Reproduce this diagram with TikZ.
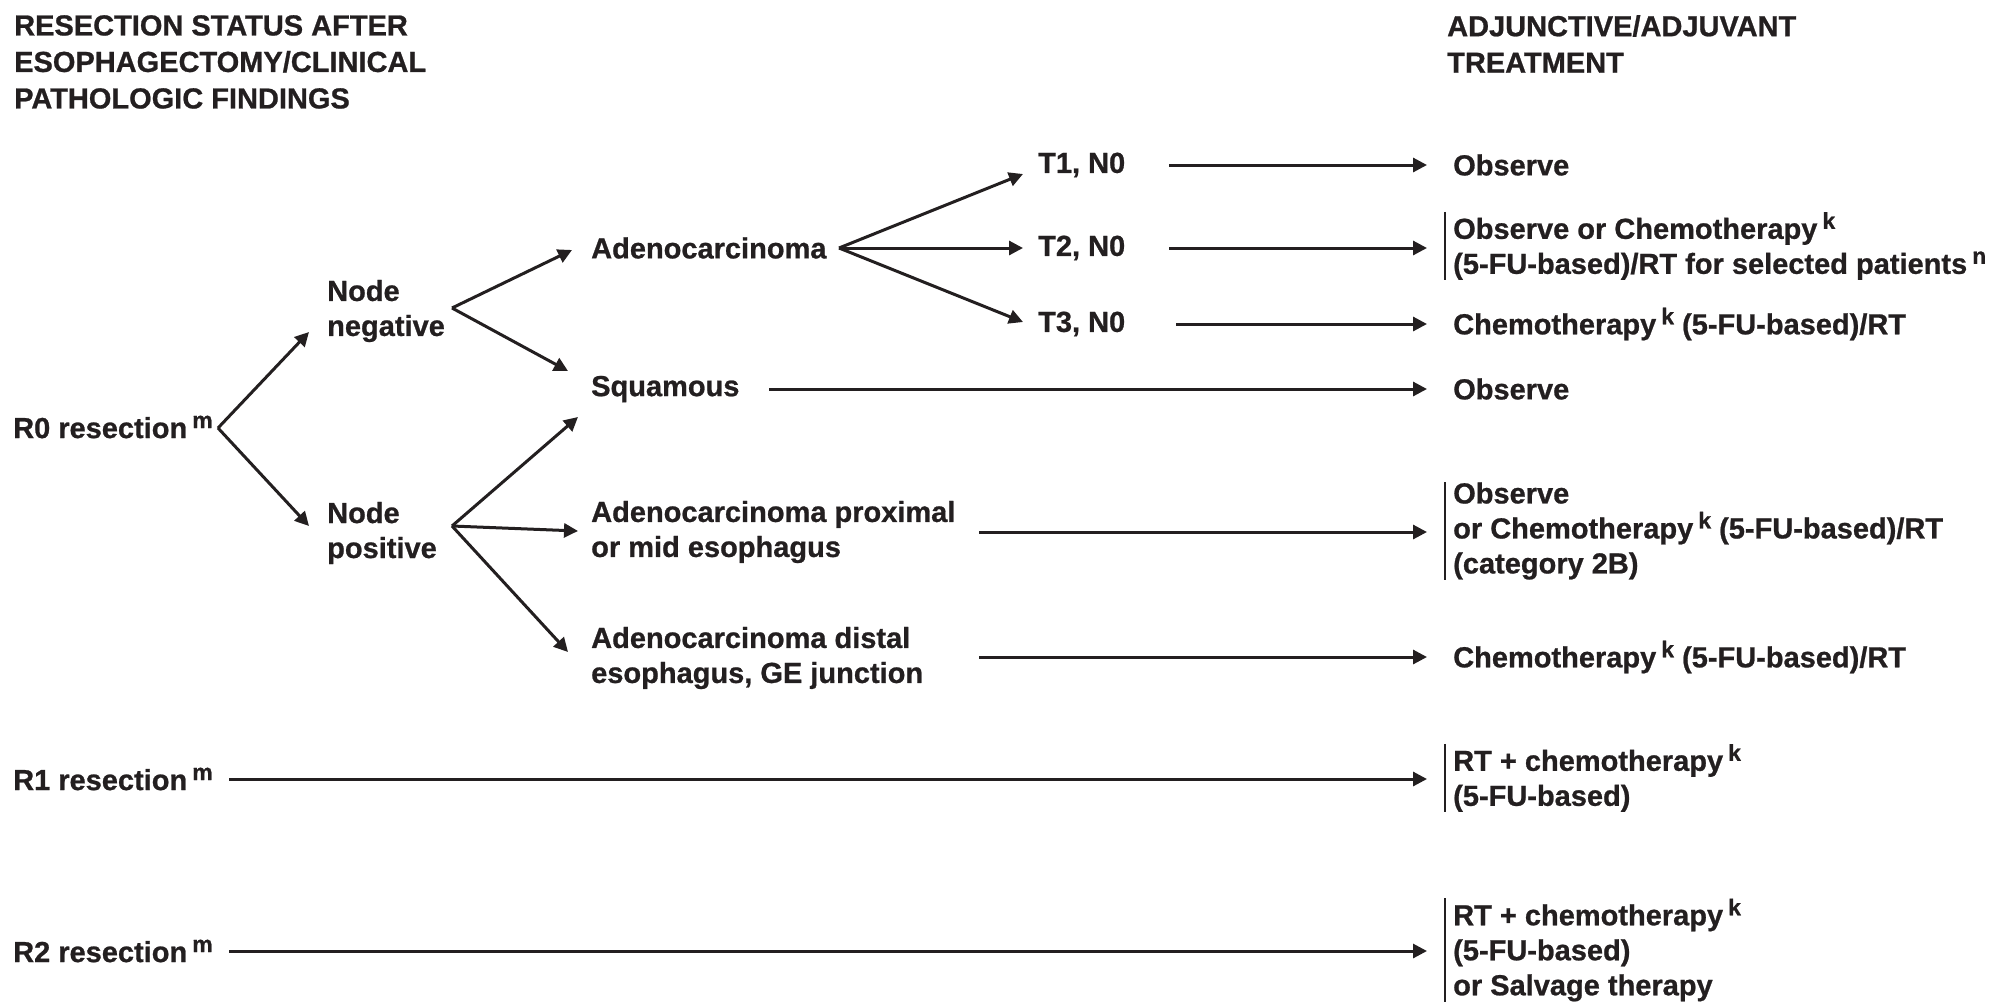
\documentclass[tikz,border=0pt]{standalone}
\usepackage{fontspec}
\setmainfont{Liberation Sans}[BoldFeatures={FakeBold=0.8}]
\usetikzlibrary{arrows.meta}
\definecolor{ink}{HTML}{231F20}
\newcommand\bfnt{\fontsize{29}{35}\selectfont\bfseries}
\newcommand\supr[1]{\hspace{5pt}\raisebox{10pt}{\fontsize{23}{23}\selectfont\bfseries #1}}
\tikzset{
  txt/.style={font=\bfnt, text=ink, inner sep=0pt, anchor=west, align=left},
  hdr/.style={font=\fontsize{29}{36.5}\selectfont\bfseries, text=ink, inner sep=0pt, anchor=north west, align=left},
  trt/.style={font=\bfnt, text=ink, inner xsep=8pt, inner ysep=0pt, anchor=west, align=left},
  arr/.style={draw=ink, line width=3pt, -{Triangle[length=14pt,width=14pt]}},
  barline/.style={draw=ink, line width=2.4pt}
}
\begin{document}
\begin{tikzpicture}[x=1pt,y=-1pt]
\useasboundingbox (0,0) rectangle (1993,1002);
% headers
\node[hdr] (hl) at (14,15) {RESECTION STATUS AFTER\\ESOPHAGECTOMY/CLINICAL\\PATHOLOGIC FINDINGS};
\node[hdr] (hr) at (1447,15) {ADJUNCTIVE/ADJUVANT\\TREATMENT};
% left column
\node[txt] (r0) at (13,427) {R0 resection\supr{m}};
\node[txt] (r1) at (13,779) {R1 resection\supr{m}};
\node[txt] (r2) at (13,951) {R2 resection\supr{m}};
\node[txt] (nneg) at (327,311) {Node\\negative};
\node[txt] (npos) at (327,533) {Node\\positive};
\node[txt] (adeno) at (591,248) {Adenocarcinoma};
\node[txt] (squam) at (591,389) {Squamous};
\node[txt] (aprox) at (591,532) {Adenocarcinoma proximal\\or mid esophagus};
\node[txt] (adist) at (591,658) {Adenocarcinoma distal\\esophagus, GE junction};
\node[txt] (t1) at (1038,165) {T1, N0};
\node[txt] (t2) at (1038,248) {T2, N0};
\node[txt] (t3) at (1038,324) {T3, N0};
% treatments
\node[trt] (o1) at (1445,165) {Observe};
\node[trt] (o2) at (1445,246) {Observe or Chemotherapy\supr{k}\\(5-FU-based)/RT for selected patients\supr{n}};
\node[trt] (o3) at (1445,324) {Chemotherapy\supr{k} (5-FU-based)/RT};
\node[trt] (o4) at (1445,389) {Observe};
\node[trt] (o5) at (1445,531) {Observe\\or Chemotherapy\supr{k} (5-FU-based)/RT\\(category 2B)};
\node[trt] (o6) at (1445,657) {Chemotherapy\supr{k} (5-FU-based)/RT};
\node[trt] (o7) at (1445,778) {RT + chemotherapy\supr{k}\\(5-FU-based)};
\node[trt] (o8) at (1445,950) {RT + chemotherapy\supr{k}\\(5-FU-based)\\or Salvage therapy};
% bars
\foreach \n in {o2,o5,o7,o8}{\draw[barline] (\n.north west) -- (\n.south west);}
% vertices
\coordinate (v0) at (218,428);
\coordinate (vneg) at (452,308);
\coordinate (vpos) at (452,526);
\coordinate (vad) at (839,248);
% tree edges
\draw[arr] (v0) -- ([shift={(-18,21)}]nneg.west);
\draw[arr] (v0) -- ([shift={(-18,-7)}]npos.west);
\draw[arr] (vneg) -- ([shift={(-19,2)}]adeno.west);
\draw[arr] (vneg) -- ([shift={(-23,-18)}]squam.west);
\draw[arr] (vpos) -- ([shift={(-13,28)}]squam.west);
\draw[arr] (vpos) -- ([shift={(-13,-1)}]aprox.west);
\draw[arr] (vpos) -- ([shift={(-23,-6)}]adist.west);
\draw[arr] (vad) -- ([shift={(-15,9)}]t1.west);
\draw[arr] (vad) -- ([shift={(-15,0)}]t2.west);
\draw[arr] (vad) -- ([shift={(-15,-2)}]t3.west);
% horizontal edges to treatments
\draw[arr] (1169,0 |- t1.east) -- (1427,0 |- o1.west);
\draw[arr] (1169,0 |- t2.east) -- (1427,0 |- t2.east);
\draw[arr] (1176,0 |- t3.east) -- (1427,0 |- o3.west);
\draw[arr] (769,0 |- squam.east) -- (1427,0 |- o4.west);
\draw[arr] (979,0 |- aprox.east) -- (1427,0 |- aprox.east);
\draw[arr] (979,0 |- o6.west) -- (1427,0 |- o6.west);
\draw[arr] (229,0 |- r1.east) -- (1427,0 |- r1.east);
\draw[arr] (229,0 |- r2.east) -- (1427,0 |- r2.east);
\end{tikzpicture}
\end{document}
